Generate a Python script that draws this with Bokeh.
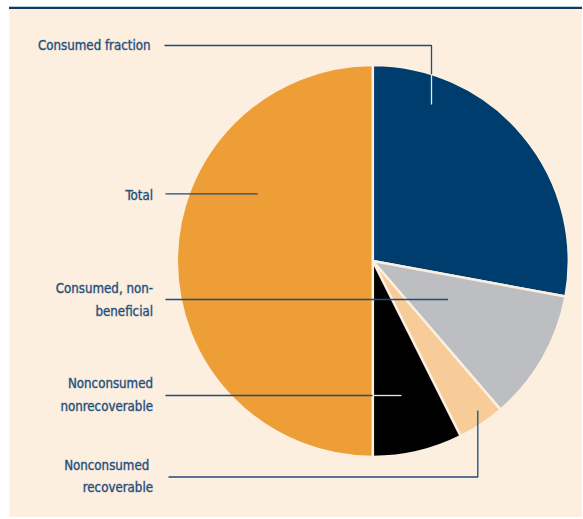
import math
from bokeh.plotting import figure
from bokeh.models import Range1d, ColumnDataSource
from bokeh.core.properties import value
from bokeh.embed import file_html
from bokeh.resources import INLINE

# ---- data ----
categories = ["Consumed fraction", "Consumed, non-beneficial",
              "Nonconsumed recoverable", "Nonconsumed nonrecoverable", "Total"]
shares = [27.9, 10.8, 3.9, 7.4, 50.0]
slice_colors = ["#003d6f", "#bdbec1", "#f8cc98", "#000000", "#ee9e36"]
label_texts = ["Consumed fraction", "Total", "Consumed, non-\nbeneficial",
               "Nonconsumed\nnonrecoverable", "Nonconsumed \nrecoverable"]

CREAM = "#fcefdf"
NAVY = "#1e4d7b"
FONT = "DejaVu Sans Condensed"

W, H = 582, 518
OX, OY = 1, 1  # where the figure lands in the photograph


def S(sx, sy):
    """screen pixel -> data coords"""
    return sx - OX, H - (sy - OY)


p = figure(width=W, height=H, output_backend="svg", toolbar_location=None,
           x_range=Range1d(0, W), y_range=Range1d(0, H), min_border=0)
p.axis.visible = False
p.grid.visible = False
p.outline_line_color = None
p.background_fill_color = "white"
p.border_fill_color = "white"

# cream panel and top rule
x0, y0 = S(10, 9)
x1, y1 = S(584, 517.5)
p.quad(left=x0, right=x1, top=y0, bottom=y1, fill_color=CREAM, line_color=None)
tx0, ty0 = S(9.5, 7.3)
tx1, ty1 = S(584, 9.4)
p.quad(left=tx0, right=tx1, top=ty0, bottom=ty1, fill_color="#0d3a66", line_color=None)

# pie
cx, cy = S(373.3, 261.5)
R = 196
total = sum(shares)
starts, ends = [], []
cum = 0.0
top = math.pi / 2
for s in shares:
    a_hi = top - cum / total * 2 * math.pi
    cum += s
    a_lo = top - cum / total * 2 * math.pi
    starts.append(a_lo)
    ends.append(a_hi)
src = ColumnDataSource(dict(start=starts, end=ends, color=slice_colors, cat=categories))
p.wedge(x=cx, y=cy, radius=R, start_angle="start", end_angle="end",
        fill_color="color", line_color=CREAM, line_width=2.5, source=src)

# leader lines (screen coords)
dark_lines = [
    [(165, 46), (432, 46), (432, 75)],
    [(166, 194.3), (258.3, 194.3)],
    [(166, 300), (448.5, 300)],
    [(166, 396), (373, 396)],
    [(169, 477.5), (478.3, 477.5), (478.3, 411)],
]
light_lines = [
    [(432, 75), (432, 105)],
    [(374, 396), (402, 396)],
]
for group, col in ((dark_lines, NAVY), (light_lines, "#e4e7ec")):
    xs, ys = [], []
    for pts in group:
        d = [S(a, b) for a, b in pts]
        xs.append([q[0] for q in d])
        ys.append([q[1] for q in d])
    p.multi_line(xs=xs, ys=ys, line_color=col, line_width=1.3)

# labels (screen anchor: right edge, first-line centre)
label_anchor = [(151, 46), (153.5, 196), (153.5, 289), (153.5, 384), (153.5, 465.5)]
LINE_GAP = 22.5
lx, ly, lt = [], [], []
for txt, (ax, ay) in zip(label_texts, label_anchor):
    for i, line in enumerate(txt.split("\n")):
        dx, dy = S(ax, ay + i * LINE_GAP)
        lx.append(dx)
        ly.append(dy)
        lt.append(line)
p.text(x=lx, y=ly, text=lt, text_align="right", text_baseline="middle",
       text_color=NAVY, text_font=value(FONT), text_font_size="13.2px",
       text_outline_color="rgba(30,77,123,0.35)")

open("out.html", "w").write(file_html(p, INLINE))
